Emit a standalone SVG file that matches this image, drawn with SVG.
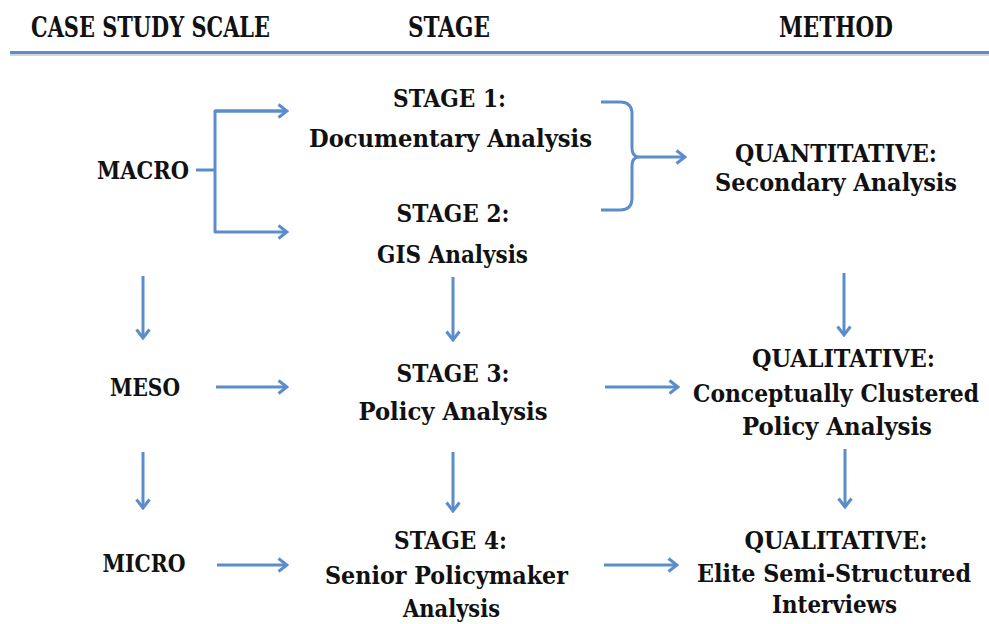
<svg xmlns="http://www.w3.org/2000/svg" width="989" height="624" viewBox="0 0 989 624">
<style>
text{font-family:"DejaVu Serif Condensed","DejaVu Serif","Liberation Serif",serif;font-stretch:condensed;font-weight:bold;fill:#111;text-anchor:middle}
.h{font-size:27px}
.t{font-size:25px}
.c{fill:none;stroke:#5b8dcb;stroke-width:3;stroke-linecap:butt;stroke-linejoin:round}
</style>
<defs>
<marker id="ah" viewBox="0 0 12 16" markerWidth="12" markerHeight="16" refX="10.5" refY="8" orient="auto" markerUnits="userSpaceOnUse">
<path d="M2,1.5 L10.5,8 L2,14.5" fill="none" stroke="#5b8dcb" stroke-width="3" stroke-linejoin="miter"/>
</marker>
</defs>
<rect width="989" height="624" fill="#fff"/>
<g id="header">
<text class="h" x="150.5" y="37" textLength="239" lengthAdjust="spacingAndGlyphs">CASE STUDY SCALE</text>
<text class="h" x="449" y="37" textLength="82" lengthAdjust="spacingAndGlyphs">STAGE</text>
<text class="h" x="836" y="37" textLength="114" lengthAdjust="spacingAndGlyphs">METHOD</text>
<line x1="10" y1="55" x2="989" y2="55" stroke="#d4d4d4" stroke-width="2"/>
<line x1="10" y1="52.5" x2="989" y2="52.5" stroke="#5b8dcb" stroke-width="3"/>
</g>
<g id="macro"><text class="t" x="143" y="179" textLength="92" lengthAdjust="spacingAndGlyphs">MACRO</text></g>
<g id="stage1">
<text class="t" x="449.5" y="107" textLength="113" lengthAdjust="spacingAndGlyphs">STAGE 1:</text>
<text class="t" x="450.5" y="147" textLength="283" lengthAdjust="spacingAndGlyphs">Documentary Analysis</text>
</g>
<g id="stage2">
<text class="t" x="453" y="222" textLength="113" lengthAdjust="spacingAndGlyphs">STAGE 2:</text>
<text class="t" x="452.5" y="263" textLength="151" lengthAdjust="spacingAndGlyphs">GIS Analysis</text>
</g>
<g id="quantitative">
<text class="t" x="836" y="162" textLength="202" lengthAdjust="spacingAndGlyphs">QUANTITATIVE:</text>
<text class="t" x="836" y="191" textLength="242" lengthAdjust="spacingAndGlyphs">Secondary Analysis</text>
</g>
<g id="meso"><text class="t" x="145" y="396" textLength="70" lengthAdjust="spacingAndGlyphs">MESO</text></g>
<g id="stage3">
<text class="t" x="453" y="382" textLength="113" lengthAdjust="spacingAndGlyphs">STAGE 3:</text>
<text class="t" x="453" y="420" textLength="189" lengthAdjust="spacingAndGlyphs">Policy Analysis</text>
</g>
<g id="qualitative1">
<text class="t" x="843.5" y="367" textLength="183" lengthAdjust="spacingAndGlyphs">QUALITATIVE:</text>
<text class="t" x="836" y="402" textLength="286" lengthAdjust="spacingAndGlyphs">Conceptually Clustered</text>
<text class="t" x="837" y="435" textLength="190" lengthAdjust="spacingAndGlyphs">Policy Analysis</text>
</g>
<g id="micro"><text class="t" x="144" y="572" textLength="83" lengthAdjust="spacingAndGlyphs">MICRO</text></g>
<g id="stage4">
<text class="t" x="450.5" y="549" textLength="113" lengthAdjust="spacingAndGlyphs">STAGE 4:</text>
<text class="t" x="446.5" y="584" textLength="243" lengthAdjust="spacingAndGlyphs">Senior Policymaker</text>
<text class="t" x="451.5" y="617" textLength="97" lengthAdjust="spacingAndGlyphs">Analysis</text>
</g>
<g id="qualitative2">
<text class="t" x="836" y="549" textLength="183" lengthAdjust="spacingAndGlyphs">QUALITATIVE:</text>
<text class="t" x="834" y="582" textLength="274" lengthAdjust="spacingAndGlyphs">Elite Semi-Structured</text>
<text class="t" x="834.5" y="613" textLength="125" lengthAdjust="spacingAndGlyphs">Interviews</text>
</g>
<g id="connectors">
<path class="c" d="M196,170 H215"/>
<path class="c" d="M287,111 H215 V232 H287" marker-end="url(#ah)"/>
<path class="c" d="M215,111 H287" marker-end="url(#ah)"/>
<path class="c" d="M601,102 H620 Q632,102 632,114 V148 Q632,156 638,157 Q632,158 632,166 V198 Q632,210 620,210 H601"/>
<path class="c" d="M638,157 H685" marker-end="url(#ah)"/>
<path class="c" d="M143,276 V338" marker-end="url(#ah)"/>
<path class="c" d="M453,277 V340" marker-end="url(#ah)"/>
<path class="c" d="M844,273 V335" marker-end="url(#ah)"/>
<path class="c" d="M216,387 H287" marker-end="url(#ah)"/>
<path class="c" d="M605,387 H678" marker-end="url(#ah)"/>
<path class="c" d="M143,452 V508" marker-end="url(#ah)"/>
<path class="c" d="M453,452 V511" marker-end="url(#ah)"/>
<path class="c" d="M845,449 V507" marker-end="url(#ah)"/>
<path class="c" d="M217,565 H287" marker-end="url(#ah)"/>
<path class="c" d="M604,565 H677" marker-end="url(#ah)"/>
</g>
</svg>
